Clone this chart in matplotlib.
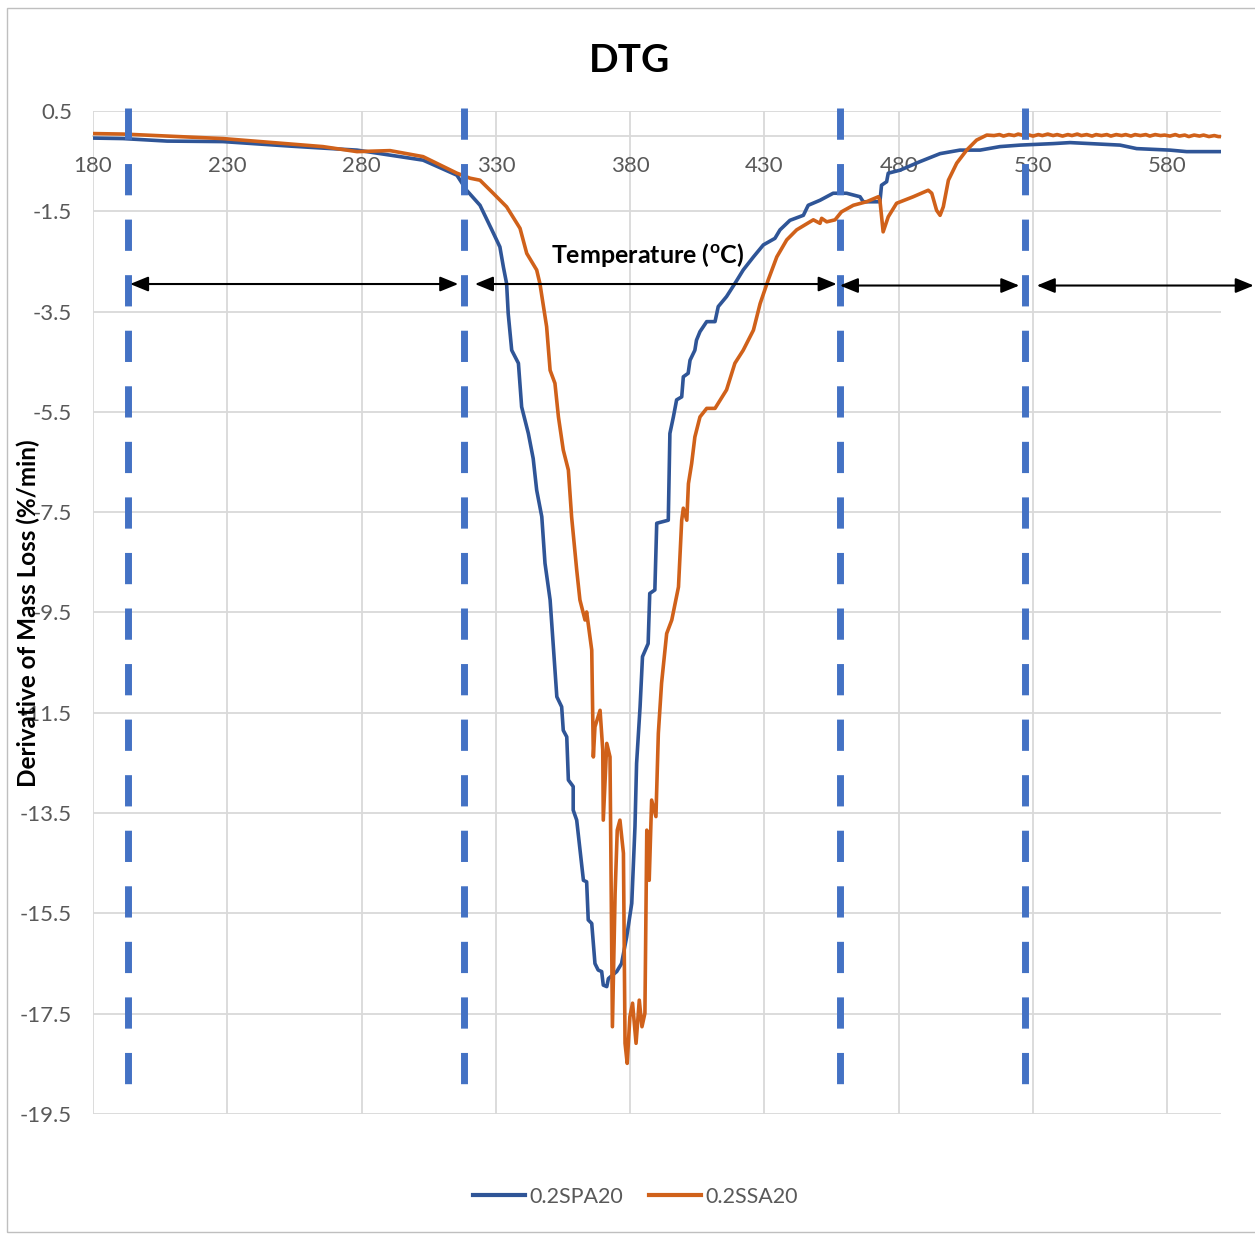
import matplotlib
matplotlib.use("Agg")
import matplotlib.pyplot as plt
from matplotlib.patches import Rectangle

plt.rcParams['font.family'] = ['Lato', 'DejaVu Sans']

# ---------------- data ----------------
spa_T = [180.0, 191.2, 207.6, 228.4, 253.4, 265.6, 278.3, 290.6, 302.9, 315.5,
         319.1, 324.1, 328.5, 331.5, 332.8, 334.0, 334.6, 335.9, 338.4, 339.6,
         342.1, 343.9, 345.2, 347.1, 348.3, 350.2, 352.7, 354.5, 355.1, 356.4,
         357.0, 358.8, 358.8, 360.1, 362.6, 363.8, 364.4, 365.7, 366.9, 368.1,
         369.4, 370.0, 371.3, 371.9, 375.0, 376.8, 378.7, 380.6, 381.8, 382.4,
         383.7, 384.6, 386.7, 387.3, 389.2, 389.9, 394.2, 394.8, 396.1, 397.3,
         399.2, 399.8, 401.6, 402.3, 404.1, 404.7, 406.0, 408.5, 411.6, 412.8,
         415.9, 419.0, 422.1, 425.9, 429.6, 433.9, 435.8, 439.5, 444.5, 446.3,
         450.7, 455.6, 460.6, 465.6, 466.8, 473.0, 473.6, 475.5, 476.1, 480.5,
         487.9, 495.4, 502.8, 510.3, 517.7, 525.2, 537.6, 543.8, 562.4, 568.6,
         581.0, 587.2, 600.0]
spa_v = [-0.04, -0.05, -0.10, -0.11, -0.20, -0.24, -0.28, -0.38, -0.48, -0.78,
         -1.08, -1.38, -1.87, -2.21, -2.61, -2.94, -3.54, -4.27, -4.53, -5.40,
         -5.93, -6.43, -7.06, -7.59, -8.52, -9.25, -11.18, -11.38, -11.85, -11.98,
         -12.84, -12.97, -13.44, -13.64, -14.84, -14.87, -15.63, -15.70, -16.50, -16.63,
         -16.66, -16.93, -16.96, -16.80, -16.66, -16.50, -15.97, -15.30, -13.77, -12.51,
         -11.38, -10.38, -10.12, -9.12, -9.05, -7.72, -7.66, -5.93, -5.60, -5.26,
         -5.20, -4.80, -4.73, -4.47, -4.27, -4.07, -3.90, -3.70, -3.70, -3.40,
         -3.20, -2.94, -2.67, -2.41, -2.17, -2.04, -1.87, -1.68, -1.58, -1.38,
         -1.28, -1.14, -1.14, -1.21, -1.31, -1.31, -0.98, -0.91, -0.74, -0.68,
         -0.51, -0.35, -0.28, -0.28, -0.21, -0.18, -0.15, -0.13, -0.18, -0.25,
         -0.28, -0.31, -0.31]

ssa_T = [180.0, 191.2, 228.4, 265.6, 278.3, 290.6, 302.9, 315.5, 320.4, 324.1,
         329.0, 334.0, 339.0, 341.5, 345.2, 346.4, 348.9, 350.2, 352.0, 353.3,
         355.1, 357.0, 358.2, 360.1, 361.3, 363.2, 363.8, 365.7, 366.3, 366.9,
         368.8, 369.8, 370.0, 371.3, 372.5, 373.4, 374.4, 375.2, 376.2, 377.5,
         378.1, 378.9, 379.9, 380.9, 382.2, 383.4, 384.4, 385.5, 386.2, 387.1,
         388.0, 389.6, 390.5, 391.7, 393.6, 395.5, 398.0, 399.2, 399.8, 401.1,
         401.7, 402.9, 404.1, 406.0, 408.5, 411.6, 415.9, 419.0, 422.1, 425.9,
         428.4, 431.4, 434.6, 438.3, 442.0, 445.1, 448.2, 450.7, 451.3, 453.2,
         456.3, 458.7, 463.1, 468.0, 472.4, 473.0, 474.2, 476.1, 479.2, 485.4,
         491.0, 492.3, 494.1, 495.4, 496.6, 498.5, 501.6, 505.3, 509.0, 512.8,
         515.5, 517.5, 519.0, 521.0, 523.0, 524.5, 526.5, 528.0, 530.0, 532.0,
         533.5, 535.5, 537.5, 539.0, 541.0, 543.0, 544.5, 546.5, 548.0, 550.0,
         552.0, 553.5, 555.5, 557.5, 559.0, 561.0, 563.0, 564.5, 566.5, 568.0,
         570.0, 572.0, 573.5, 575.5, 577.5, 579.0, 581.0, 583.0, 584.5, 586.5,
         588.0, 590.0, 592.0, 593.5, 595.5, 597.5, 599.0, 600.0]
ssa_v = [0.05, 0.04, -0.05, -0.21, -0.31, -0.29, -0.41, -0.74, -0.84, -0.88,
         -1.14, -1.41, -1.84, -2.34, -2.67, -2.94, -3.80, -4.67, -4.93, -5.60,
         -6.26, -6.66, -7.59, -8.65, -9.25, -9.65, -9.49, -10.25, -12.38, -11.78,
         -11.45, -12.24, -13.64, -12.11, -12.38, -17.76, -15.10, -13.84, -13.64, -14.30,
         -18.09, -18.49, -17.56, -17.29, -18.09, -17.23, -17.76, -17.49, -13.84, -14.84,
         -13.24, -13.57, -11.91, -10.91, -9.92, -9.65, -8.99, -7.66, -7.42, -7.66,
         -6.93, -6.53, -6.00, -5.60, -5.43, -5.43, -5.06, -4.53, -4.27, -3.87,
         -3.34, -2.87, -2.41, -2.07, -1.87, -1.77, -1.67, -1.74, -1.64, -1.71,
         -1.67, -1.51, -1.38, -1.31, -1.21, -1.28, -1.91, -1.61, -1.34, -1.21,
         -1.08, -1.14, -1.48, -1.58, -1.41, -0.88, -0.54, -0.28, -0.08, 0.02,
         0.01, 0.03, 0.00, 0.03, 0.01, 0.04, 0.01, 0.03, 0.00, 0.03,
         0.01, 0.04, 0.01, 0.03, 0.00, 0.03, 0.01, 0.04, 0.01, 0.03,
         0.00, 0.03, 0.01, 0.03, 0.00, 0.03, 0.01, 0.03, 0.00, 0.03,
         0.01, 0.03, 0.00, 0.03, 0.01, 0.02, 0.00, 0.03, 0.00, 0.02,
         -0.01, 0.02, 0.00, 0.02, -0.01, 0.01, -0.01, -0.01]

series_labels = ['0.2SPA20', '0.2SSA20']
x_ticks = [180, 230, 280, 330, 380, 430, 480, 530, 580]
y_ticks = [0.5, -1.5, -3.5, -5.5, -7.5, -9.5, -11.5, -13.5, -15.5, -17.5, -19.5]
stage_bounds = [193, 318, 458, 527]
arrow_spans = [(193.8, 316.0, -2.95), (322.2, 456.9, -2.95),
               (458.1, 524.9, -2.98), (531.4, 612.2, -2.98)]
title = 'DTG'
y_label = 'Derivative of Mass Loss (%/min)'
x_label = 'Temperature ($\\mathregular{^o}$C)'

# ---------------- figure ----------------
W, H = 1255, 1235
fig = plt.figure(figsize=(W / 100, H / 100), dpi=100)
ax = fig.add_axes([93 / W, 1 - 1114 / H, (1221 - 93) / W, (1114 - 111) / H])

# border of chart area
fig.patches.append(Rectangle((7 / W, 1 - 1232 / H), 1.2, (1232 - 8) / H,
                             transform=fig.transFigure, fill=False,
                             edgecolor='#BFBFBF', linewidth=1.0))

ax.set_xlim(180, 600)
ax.set_ylim(-19.5, 0.5)
ax.set_xticks(x_ticks)
ax.set_yticks(y_ticks)
ax.set_yticklabels([f'{t:g}' for t in y_ticks])
ax.grid(True, color='#D9D9D9', linewidth=1.3, zorder=0)
ax.set_axisbelow(True)
for s in ['top', 'right', 'left']:
    ax.spines[s].set_visible(False)
ax.spines['bottom'].set_position(('data', 0))
ax.spines['bottom'].set_color('#D9D9D9')
ax.spines['bottom'].set_linewidth(1.3)
ax.tick_params(axis='x', length=0, pad=14, labelsize=16, labelcolor='#595959')
ax.tick_params(axis='y', length=0, pad=15, labelsize=16, labelcolor='#595959')

blue = '#2F5597'
orange = '#D0611A'
ax.plot(spa_T, spa_v, color=blue, linewidth=2.6, label=series_labels[0], zorder=3,
        solid_joinstyle='round')
ax.plot(ssa_T, ssa_v, color=orange, linewidth=2.6, label=series_labels[1], zorder=3,
        solid_joinstyle='round')

# stage boundaries (dashed)
for xb in stage_bounds:
    ax.plot([xb, xb], [0.56, -19.2], color='#4472C4', linewidth=5.0,
            linestyle=(0, (22.5 / 5.0, 17.5 / 5.0)), clip_on=False, zorder=5,
            solid_capstyle='butt', dash_capstyle='butt')

# double arrows
for x0, x1, yv in arrow_spans:
    ax.annotate('', xy=(x1, yv), xytext=(x0, yv), xycoords='data',
                annotation_clip=False,
                arrowprops=dict(arrowstyle='<|-|>,head_length=1.1,head_width=0.45',
                                mutation_scale=10, color='black', linewidth=1.5,
                                shrinkA=0, shrinkB=0), zorder=6)

ax.text(386.6, -2.37, x_label, ha='center', va='center', fontsize=18,
        fontweight='bold', color='black', zorder=6)

fig.text(630 / W, 1 - 60 / H, title, ha='center', va='center', fontsize=28,
         fontweight='bold', color='black')
fig.text(28 / W, 1 - 613 / H, y_label, ha='center', va='center', rotation=90,
         fontsize=17.5, fontweight='bold', color='black')

leg = fig.legend(loc='center', bbox_to_anchor=(635.5 / W, 1 - 1197 / H), ncol=2,
                 frameon=False, fontsize=15.5, handlelength=2.4, handletextpad=0.2,
                 columnspacing=1.2)
for t in leg.get_texts():
    t.set_color('#595959')
for l in leg.get_lines():
    l.set_linewidth(3)

fig.savefig('out.png', dpi=100)
